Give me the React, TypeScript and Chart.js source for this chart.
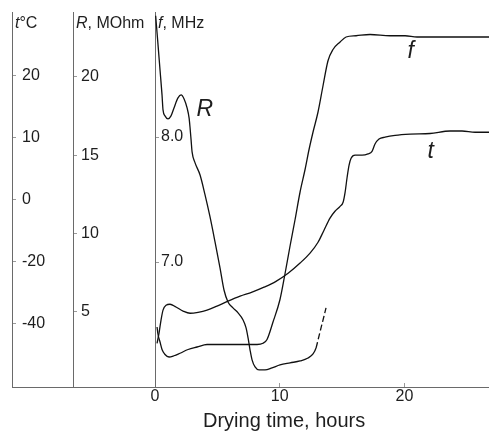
import React, { useEffect, useRef } from 'react';
import { Chart, registerables } from 'chart.js';

Chart.register(...registerables);

// ---- Tick values ----
const hourTicks = [0, 10, 20];
const tTickTemps = [-40, -20, 0, 10, 20]; // evenly spaced labels on the t°C axis
const rTicks = [5, 10, 15, 20];
const fTicks = [7.0, 8.0];

// ---- R, MOhm ----
const rHours = [0.05, 0.24, 0.40, 0.56, 0.64, 0.80, 1.04, 1.28, 1.52, 1.84, 2.09, 2.33, 2.57, 2.73, 2.81, 2.89, 2.97, 3.21, 3.61, 4.01, 4.41, 4.81, 5.21, 5.53, 5.85, 6.25, 6.66, 7.06, 7.30, 7.46, 7.62, 7.78, 8.02, 8.34, 8.82, 9.38, 10.02, 10.83, 11.63, 12.27, 12.67, 12.91, 13.07, 13.31, 13.55, 13.71];
const rValues = [23.9, 22.04, 20.44, 18.85, 17.89, 17.51, 17.32, 17.51, 18.02, 18.66, 18.85, 18.59, 18.02, 17.38, 16.74, 15.98, 15.21, 14.51, 13.74, 12.47, 11.06, 9.47, 7.81, 6.40, 5.64, 5.26, 4.94, 4.49, 3.98, 3.34, 2.57, 1.94, 1.49, 1.30, 1.30, 1.43, 1.62, 1.75, 1.87, 2.06, 2.32, 2.70, 3.21, 3.98, 4.74, 5.26];
const rDashFromHour = 12.9;

// ---- f, MHz ----
const fHours = [0.16, 0.24, 0.40, 0.56, 0.80, 1.12, 1.52, 2.00, 2.65, 3.37, 4.17, 5.21, 6.42, 7.46, 8.18, 8.66, 8.98, 9.46, 10.02, 10.43, 10.83, 11.23, 11.63, 12.03, 12.35, 12.67, 13.07, 13.47, 13.87, 14.27, 14.84, 15.32, 16.12, 17.24, 18.85, 20.05, 21.01, 22.85, 24.86, 26.78];
const fValues = [6.48, 6.42, 6.36, 6.30, 6.26, 6.24, 6.25, 6.27, 6.30, 6.32, 6.34, 6.34, 6.34, 6.34, 6.34, 6.35, 6.38, 6.52, 6.70, 6.91, 7.13, 7.34, 7.56, 7.74, 7.90, 8.04, 8.20, 8.41, 8.61, 8.70, 8.76, 8.80, 8.81, 8.82, 8.81, 8.81, 8.80, 8.80, 8.80, 8.80];

// ---- t, °C ----
const tHours = [0.16, 0.32, 0.48, 0.64, 0.88, 1.20, 1.68, 2.25, 2.81, 3.45, 4.17, 4.97, 5.85, 6.82, 7.78, 8.74, 9.70, 10.67, 11.63, 12.43, 13.07, 13.55, 14.03, 14.43, 14.84, 15.08, 15.24, 15.40, 15.56, 15.72, 16.04, 16.60, 17.08, 17.40, 17.64, 17.96, 18.44, 19.25, 20.45, 22.05, 23.66, 24.62, 25.66, 26.78];
const tValues = [-46.5, -43.2, -39.0, -35.8, -34.2, -33.9, -34.8, -36.1, -36.8, -36.5, -35.8, -34.5, -32.9, -31.3, -30.0, -28.4, -26.5, -23.9, -20.6, -17.4, -13.9, -10.0, -6.1, -3.9, -2.3, -1.0, 1.1, 3.5, 5.5, 6.6, 7.1, 7.1, 7.3, 7.7, 8.9, 9.7, 10.0, 10.3, 10.5, 10.6, 11.0, 11.0, 10.8, 10.8];

// ---- Text ----
const xTitle = 'Drying time, hours';
const axisTitles = [
  { axis: 'yT', parts: [{ text: 't', italic: true }, { text: '°C', italic: false }] },
  { axis: 'yR', parts: [{ text: 'R', italic: true }, { text: ', MOhm', italic: false }] },
  { axis: 'yF', parts: [{ text: 'f', italic: true }, { text: ', MHz', italic: false }] },
];
const curveLabels = [
  { text: 'R', axis: 'yR', x: 4.0, y: 17.9 },
  { text: 'f', axis: 'yF', x: 20.5, y: 8.68 },
  { text: 't', axis: 'yT', x: 22.1, y: 7.6 },
];
const xTitleAtHour = 10.35;

// map a temperature onto the t axis (labels are evenly spaced)
function tempToAxis(temp: number): number {
  const n = tTickTemps.length;
  let i = n - 2;
  for (let k = 0; k < n - 1; k++) {
    if (temp <= tTickTemps[k + 1]) { i = k; break; }
  }
  const a = tTickTemps[i];
  const b = tTickTemps[i + 1];
  return i + (temp - a) / (b - a);
}

const FONT = '"Liberation Sans", Arial, Helvetica, sans-serif';
const TEXT = '#1e1e1e';
const AXIS = '#6a6a6a';
const TICK = '#9a9a9a';

const textPlugin = {
  id: 'chartTexts',
  afterDraw(chart: any) {
    const ctx = chart.ctx;
    const s = chart.scales;
    ctx.save();
    ctx.fillStyle = TEXT;
    // axis titles at the top of each axis
    ctx.textBaseline = 'alphabetic';
    ctx.textAlign = 'left';
    axisTitles.forEach((a) => {
      let cx = s[a.axis].right + 3;
      const cy = chart.chartArea.top + 16;
      a.parts.forEach((p) => {
        ctx.font = `${p.italic ? 'italic ' : ''}16px ${FONT}`;
        ctx.fillText(p.text, cx, cy);
        cx += ctx.measureText(p.text).width;
      });
    });
    // curve labels
    ctx.textAlign = 'center';
    ctx.textBaseline = 'middle';
    ctx.font = `italic 23px ${FONT}`;
    curveLabels.forEach((l) => {
      const x = s.x.getPixelForValue(l.x);
      const yv = l.axis === 'yT' ? tempToAxis(l.y) : l.y;
      const y = s[l.axis].getPixelForValue(yv);
      ctx.fillText(l.text, x, y);
    });
    // x title
    ctx.font = `20px ${FONT}`;
    ctx.textBaseline = 'alphabetic';
    ctx.fillText(xTitle, s.x.getPixelForValue(xTitleAtHour), chart.chartArea.bottom + 40);
    ctx.restore();
  },
};

function leftAxis(weight: number, width: number, min: number, max: number, values: number[], label: (v: number) => string, padding: number) {
  return {
    type: 'linear',
    position: 'left',
    weight,
    min,
    max,
    afterBuildTicks: (sc: any) => { sc.ticks = values.map((v) => ({ value: v })); },
    afterFit: (sc: any) => {
      sc.width = width;
      sc.paddingTop = 0;
      sc.paddingBottom = 0;
    },
    grid: { display: true, drawOnChartArea: false, drawTicks: true, tickLength: -4, color: TICK, tickColor: TICK },
    border: { display: true, color: AXIS, width: 1 },
    ticks: {
      mirror: true,
      padding,
      autoSkip: false,
      color: TEXT,
      font: { family: FONT, size: 16 },
      callback: (v: any) => label(Number(v)),
    },
  };
}

export default function App() {
  const ref = useRef<HTMLCanvasElement>(null);
  useEffect(() => {
    document.body.style.margin = '0';
    const lineStyle = {
      borderColor: '#111',
      borderWidth: 1.3,
      pointRadius: 0,
      cubicInterpolationMode: 'monotone',
      fill: false,
      clip: false,
    };
    const chart = new Chart(ref.current as HTMLCanvasElement, {
      type: 'line',
      data: {
        datasets: [
          {
            ...lineStyle,
            label: 'R',
            yAxisID: 'yR',
            data: rHours.map((h, i) => ({ x: h, y: rValues[i] })),
            segment: {
              borderDash: (c: any) => (c.p0.parsed.x >= rDashFromHour ? [6, 3] : undefined),
            },
          },
          {
            ...lineStyle,
            label: 'f',
            yAxisID: 'yF',
            data: fHours.map((h, i) => ({ x: h, y: fValues[i] })),
          },
          {
            ...lineStyle,
            label: 't',
            yAxisID: 'yT',
            data: tHours.map((h, i) => ({ x: h, y: tempToAxis(tValues[i]) })),
          },
        ],
      } as any,
      options: {
        animation: false,
        responsive: false,
        events: [],
        layout: { padding: { left: 12, top: 12, right: 0, bottom: 0 } },
        plugins: { legend: { display: false }, tooltip: { enabled: false } },
        scales: {
          x: {
            type: 'linear',
            position: 'bottom',
            fullSize: true,
            min: -11.47,
            max: 26.78,
            afterBuildTicks: (sc: any) => { sc.ticks = hourTicks.map((v) => ({ value: v })); },
            afterFit: (sc: any) => {
              sc.height = 44;
              sc.paddingLeft = 0;
              sc.paddingRight = 0;
            },
            grid: { display: true, drawOnChartArea: false, drawTicks: true, tickLength: -4, color: TICK, tickColor: TICK },
            border: { display: true, color: AXIS, width: 1 },
            ticks: {
              padding: 4,
              maxRotation: 0,
              autoSkip: false,
              color: TEXT,
              font: { family: FONT, size: 16 },
              callback: (v: any) => String(v),
            },
          },
          yT: leftAxis(3, 0, -1.03, 5.02, tTickTemps.map((_, i) => i), (v) => String(tTickTemps[Math.round(v)]), 10),
          yR: leftAxis(2, 61, 0.21, 24.14, rTicks, (v) => String(v), 8),
          yF: leftAxis(1, 82, 6.0, 9.0, fTicks, (v) => v.toFixed(1), 6),
        },
      } as any,
      plugins: [textPlugin],
    });
    return () => chart.destroy();
  }, []);
  return (
    <div style={{ width: 489, height: 431 }}>
      <canvas ref={ref} width={489} height={431} style={{ display: 'block' }} />
    </div>
  );
}
